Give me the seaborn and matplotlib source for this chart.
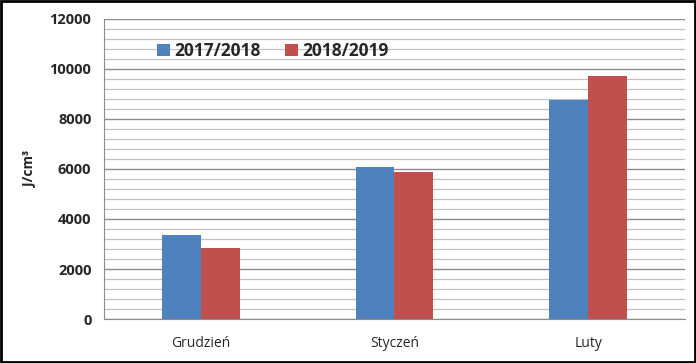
import pandas as pd
import matplotlib
matplotlib.use("Agg")
import matplotlib.pyplot as plt
import seaborn as sns
from matplotlib.patches import Rectangle

# data
months = ["Grudzień", "Styczeń", "Luty"]
season_a = "2017/2018"
season_b = "2018/2019"
values_a = [3360, 6080, 8770]
values_b = [2830, 5880, 9720]
y_ticks = [0, 2000, 4000, 6000, 8000, 10000, 12000]

df = pd.DataFrame({
    "month": months * 2,
    "season": [season_a] * 3 + [season_b] * 3,
    "value": values_a + values_b,
})

sns.set_style("white")
plt.rcParams["font.family"] = ["Open Sans", "DejaVu Sans"]

fig = plt.figure(figsize=(6.96, 3.63), dpi=100)
ax = fig.add_axes([0.1494, 0.1212, 0.8348, 0.8265])

sns.barplot(data=df, x="month", y="value", hue="season",
            palette=["#4F81BD", "#C0504D"], width=0.4, saturation=1,
            linewidth=0, ax=ax, legend=True)

ax.set_xlim(-0.5, 2.5)
ax.set_ylim(0, 12000)
ax.set_yticks(y_ticks)
ax.set_yticks(range(0, 12001, 400), minor=True)
ax.grid(axis="y", which="major", color="#8c8c8c", linewidth=1.0)
ax.grid(axis="y", which="minor", color="#c0c0c0", linewidth=0.9)
ax.set_axisbelow(True)

for s in ["top", "right"]:
    ax.spines[s].set_visible(False)
ax.spines["left"].set_color("#8c8c8c")
ax.spines["bottom"].set_color("#8c8c8c")

ax.tick_params(axis="y", which="major", length=5, color="#8c8c8c",
               labelsize=10.5, pad=4)
ax.tick_params(axis="y", which="minor", length=0)
ax.tick_params(axis="x", length=0, labelsize=10, pad=12)
for lbl in ax.get_yticklabels():
    lbl.set_fontweight("bold")

ax.set_xlabel("")
ax.set_ylabel("J/cm³", fontsize=10, fontweight="bold")
ax.yaxis.set_label_coords(-0.115, 0.5)

leg = ax.legend(loc="upper left", bbox_to_anchor=(0.065, 0.975), ncol=2,
                frameon=False, handlelength=0.7, handleheight=0.7,
                handletextpad=0.3, columnspacing=1.4,
                prop={"size": 12.5, "weight": "bold"})

# outer frame of the picture
fig.patches.append(Rectangle((0.002, 0.003), 0.996, 0.994, transform=fig.transFigure,
                             fill=False, edgecolor="black", linewidth=2))

fig.savefig("out.png", dpi=100)
